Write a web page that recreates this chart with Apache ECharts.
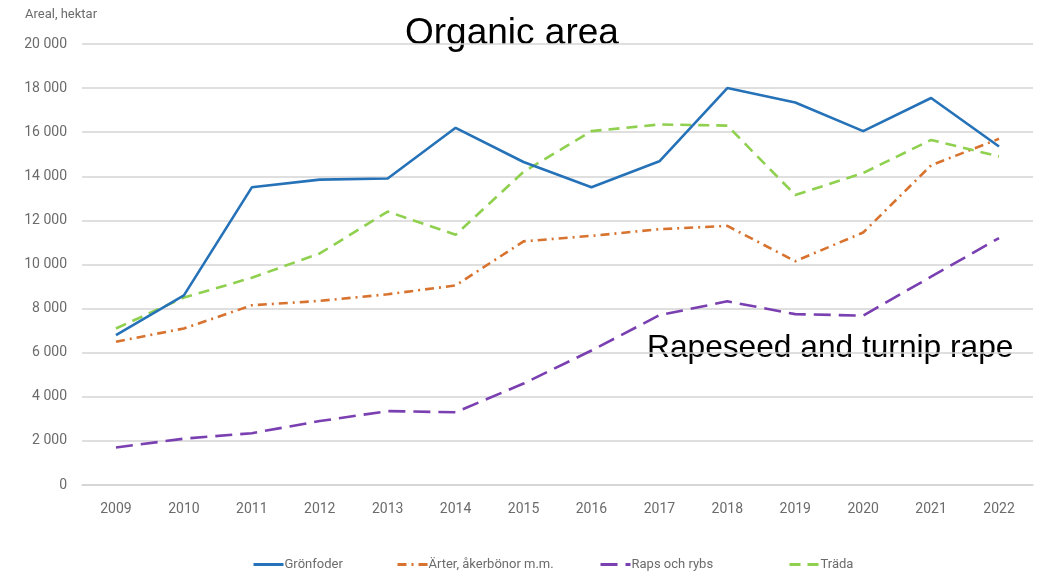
<!DOCTYPE html>
<html>
<head>
<meta charset="utf-8">
<script src="https://cdn.jsdelivr.net/npm/echarts@6/dist/echarts.min.js"></script>
<style>
  html, body { margin: 0; padding: 0; background: #ffffff; }
  #chart { width: 1043px; height: 576px; }
</style>
</head>
<body>
<div id="chart"></div>
<script>
// Organic area by crop, hectares, 2009–2022
const years = ['2009', '2010', '2011', '2012', '2013', '2014', '2015', '2016', '2017', '2018', '2019', '2020', '2021', '2022'];
const gronfoder = [6800, 8600, 13500, 13850, 13900, 16200, 14650, 13500, 14680, 18000, 17350, 16050, 17550, 15350];
const arter = [6500, 7100, 8150, 8350, 8650, 9050, 11050, 11300, 11600, 11750, 10150, 11450, 14500, 15700];
const raps = [1700, 2100, 2350, 2900, 3350, 3300, 4600, 6100, 7700, 8330, 7750, 7680, 9450, 11200];
const trada = [7100, 8500, 9400, 10500, 12400, 11350, 14200, 16050, 16350, 16300, 13150, 14150, 15650, 14900];

const seriesNames = ['Grönfoder', 'Ärter, åkerbönor m.m.', 'Raps och rybs', 'Träda'];
const yTicks = { min: 0, max: 20000, interval: 2000 };

const chart = echarts.init(document.getElementById('chart'));

const labelFont = 'Roboto, "Noto Sans", sans-serif';
const labelColor = '#6b6b6b';

function fmtThousands(v) {
  return String(v).replace(/\B(?=(\d{3})+(?!\d))/g, ' ');
}

// one legend block per series so each entry sits at its own spot;
// the symbol is hidden so only the styled line sample shows
function legendFor(name, left) {
  return {
    data: [name],
    left: left,
    top: 553,
    itemWidth: 30,
    itemHeight: 14,
    itemGap: 0,
    itemStyle: { opacity: 0 },
    lineStyle: { width: 3 },
    textStyle: { fontFamily: labelFont, fontSize: 13, color: labelColor, padding: [0, 0, 0, -4] },
    selectedMode: false
  };
}

chart.setOption({
  animation: false,
  backgroundColor: '#ffffff',
  grid: { left: 82, right: 10, top: 44, bottom: 91, containLabel: false },
  legend: [
    legendFor(seriesNames[0], 247),
    legendFor(seriesNames[1], 391),
    legendFor(seriesNames[2], 594),
    legendFor(seriesNames[3], 783)
  ],
  xAxis: {
    type: 'category',
    data: years,
    boundaryGap: true,
    axisLine: { show: true, lineStyle: { color: '#d4d4d4', width: 1.5 } },
    axisTick: { show: false },
    axisLabel: { fontFamily: labelFont, fontSize: 14, color: labelColor, margin: 17 }
  },
  yAxis: {
    type: 'value',
    min: yTicks.min,
    max: yTicks.max,
    interval: yTicks.interval,
    axisLine: { show: false },
    axisTick: { show: false },
    splitLine: { lineStyle: { color: '#d4d4d4', width: 1.5 } },
    axisLabel: {
      fontFamily: labelFont, fontSize: 14, color: labelColor, margin: 15,
      formatter: fmtThousands
    }
  },
  series: [
    {
      name: seriesNames[0], type: 'line', data: gronfoder, symbol: 'none',
      lineStyle: { color: '#2672b8', width: 2.6, type: 'solid' },
      itemStyle: { color: '#2672b8' }, z: 4
    },
    {
      name: seriesNames[1], type: 'line', data: arter, symbol: 'none',
      lineStyle: { color: '#d7732f', width: 2.6, type: [9, 5, 2, 5] },
      itemStyle: { color: '#d7732f' }, z: 3
    },
    {
      name: seriesNames[2], type: 'line', data: raps, symbol: 'none',
      lineStyle: { color: '#7a3fb0', width: 2.6, type: [17, 8] },
      itemStyle: { color: '#7a3fb0' }, z: 3
    },
    {
      name: seriesNames[3], type: 'line', data: trada, symbol: 'none',
      lineStyle: { color: '#8fd04f', width: 2.6, type: [11, 7] },
      itemStyle: { color: '#8fd04f' }, z: 3
    }
  ],
  graphic: [
    {
      type: 'text', left: 25, top: 8,
      style: { text: 'Areal, hektar', fontFamily: labelFont, fontSize: 13, fill: labelColor }
    },
    {
      type: 'text', left: 405, top: 15,
      style: { text: 'Organic area', fontFamily: '"Liberation Sans", Arial, sans-serif', fontSize: 37, fill: '#000000' }
    },
    {
      type: 'text', left: 647, top: 332,
      style: { text: 'Rapeseed and turnip rape', fontFamily: '"Liberation Sans", Arial, sans-serif', fontSize: 31.7, fill: '#000000' }
    }
  ]
});
</script>
</body>
</html>
